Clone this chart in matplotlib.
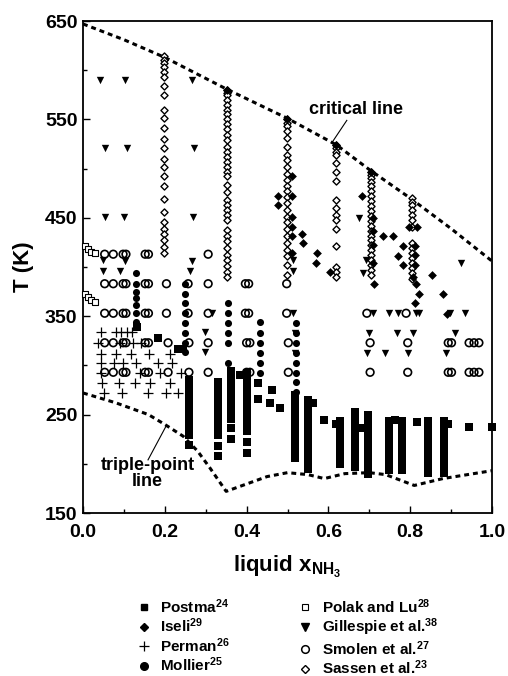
import numpy as np
import matplotlib
matplotlib.use('Agg')
from matplotlib import pyplot as plt
from matplotlib.lines import Line2D

plt.rcParams['font.family'] = 'Liberation Sans'
plt.rcParams['font.weight'] = 'bold'
plt.rcParams['mathtext.fontset'] = 'custom'
plt.rcParams['mathtext.rm'] = 'Liberation Sans:bold'
plt.rcParams['mathtext.bf'] = 'Liberation Sans:bold'
plt.rcParams['mathtext.it'] = 'Liberation Sans:bold'
plt.rcParams['mathtext.default'] = 'bf'

# critical line and triple-point line
crit_x = [0.0, 0.1, 0.2, 0.35, 0.5, 0.62, 0.7, 0.8, 0.9, 1.0]
crit_T = [647, 631, 613, 581, 551, 524, 499, 470, 439, 406]
trip_x = [0.0, 0.08, 0.16, 0.2, 0.245, 0.28, 0.31, 0.35, 0.39, 0.45, 0.5,
          0.55, 0.59, 0.64, 0.7, 0.74, 0.81, 0.88, 1.0]
trip_T = [272, 262, 250, 240, 228, 213, 196, 172, 178, 187, 191,
          189, 185, 190, 191, 189, 178, 185, 193]

# Sassen et al. (open diamonds), one column per composition
sassen_x = [0.197, 0.352, 0.498, 0.619, 0.703, 0.805]
sassen_T = [
    [614, 610, 607, 603, 598, 593, 584, 575, 560, 551, 541, 530, 521, 510, 502,
     492, 482, 469, 456, 446, 439, 434, 427, 420, 414],
    [580, 577, 575, 570, 565, 560, 555, 550, 545, 540, 534, 529, 522, 517, 512,
     507, 502, 497, 492, 483, 476, 468, 463, 458, 453, 448, 438, 432, 426, 419,
     412, 407, 401, 395, 390],
    [550, 546, 543, 538, 531, 522, 514, 509, 502, 495, 488, 482, 477, 471, 465,
     458, 451, 446, 439, 431, 424, 417, 411, 402, 392],
    [524, 521, 517, 514, 506, 497, 487, 468, 460, 453, 448, 439, 421, 400, 395, 390],
    [497, 494, 490, 486, 482, 477, 472, 467, 462, 457, 452, 447, 442, 437, 432,
     427, 422, 417, 412, 407, 402, 397, 392],
    [470, 466, 463, 458, 453, 448, 441, 424, 419, 414, 409, 404, 399, 394, 388],
]

# Iseli (filled diamonds)
iseli_x = [0.352, 0.498, 0.619, 0.703, 0.512, 0.512, 0.476, 0.476, 0.512, 0.512,
           0.512, 0.535, 0.539, 0.512, 0.571, 0.570, 0.604, 0.681, 0.734, 0.757,
           0.708, 0.708, 0.708, 0.708, 0.712, 0.798, 0.817, 0.783, 0.771, 0.783,
           0.812, 0.812, 0.812, 0.806, 0.814, 0.822, 0.812, 0.853, 0.881, 0.889]
iseli_T = [580, 550, 524, 497, 492, 472, 472, 463, 451, 441,
           431, 434, 424, 414, 414, 404, 395, 472, 431, 431,
           450, 437, 422, 404, 383, 441, 441, 421, 411, 402,
           402, 412, 421, 390, 383, 373, 363, 392, 373, 352]

# Gillespie et al. (filled down triangles)
gill_x = [0.042, 0.103, 0.267, 0.054, 0.107, 0.271, 0.053, 0.100, 0.269,
          0.048, 0.102, 0.267, 0.050, 0.090, 0.262, 0.298, 0.298, 0.315,
          0.514, 0.514, 0.513, 0.518, 0.518, 0.676, 0.692, 0.685, 0.923,
          0.710, 0.749, 0.771, 0.814, 0.822, 0.897, 0.934,
          0.700, 0.767, 0.808, 0.910, 0.694, 0.738, 0.794, 0.888]
gill_T = [590, 590, 590, 521, 521, 521, 451, 451, 451,
          407, 406, 406, 396, 396, 396, 334, 314, 353,
          407, 396, 353, 333, 313, 450, 407, 394, 404,
          353, 353, 353, 353, 353, 353, 353,
          333, 333, 333, 333, 313, 313, 313, 313]

# Smolen et al. (open circles), rows of constant T
smolen_T = [413, 383, 353, 323, 293]
smolen_x = [
    [0.053, 0.074, 0.098, 0.105, 0.152, 0.160, 0.306],
    [0.053, 0.074, 0.098, 0.105, 0.152, 0.160, 0.204, 0.257, 0.306, 0.397, 0.405, 0.498],
    [0.053, 0.074, 0.098, 0.105, 0.152, 0.160, 0.204, 0.257, 0.306, 0.397, 0.405, 0.498,
     0.694, 0.790],
    [0.053, 0.074, 0.098, 0.105, 0.152, 0.160, 0.208, 0.259, 0.306, 0.400, 0.408, 0.502,
     0.702, 0.794, 0.893, 0.901, 0.944, 0.956, 0.968],
    [0.053, 0.074, 0.098, 0.105, 0.152, 0.160, 0.208, 0.259, 0.306, 0.400, 0.408, 0.502,
     0.702, 0.794, 0.893, 0.901, 0.944, 0.956, 0.968],
]

# Mollier (filled circles), columns
mollier_x = [0.129, 0.249, 0.354, 0.433, 0.522]
mollier_T = [
    [394, 383, 375, 368, 361, 353, 344],
    [383, 373, 363, 353, 343, 333, 323, 314],
    [363, 353, 343, 333, 323, 302],
    [344, 333, 323, 313, 302, 292],
    [343, 333, 323, 313, 302, 292, 283, 273],
]

# Perman (plus), rows
perman_T = [334, 323, 312, 302, 292, 282, 272]
perman_x = [
    [0.044, 0.080, 0.094, 0.108, 0.121],
    [0.037, 0.091, 0.122, 0.143],
    [0.045, 0.080, 0.118, 0.162, 0.213],
    [0.044, 0.075, 0.097, 0.130, 0.184, 0.217],
    [0.045, 0.140, 0.188, 0.240],
    [0.047, 0.088, 0.126, 0.163, 0.213],
    [0.051, 0.096, 0.159, 0.204, 0.232],
]

# Polak and Lu (open squares)
polak_x = [0.004, 0.012, 0.020, 0.029, 0.004, 0.012, 0.020, 0.029]
polak_T = [421, 418, 415.5, 414, 373, 370, 366.5, 364]

# Postma (filled squares): stacked columns + single points
postma_x = [0.259, 0.330, 0.363, 0.400, 0.518, 0.549, 0.628, 0.665, 0.696,
            0.748, 0.779, 0.843, 0.883]
postma_T = [
    [285, 281, 277, 273, 269, 265, 261, 258, 251, 243, 236, 229, 219],
    [283, 279, 275, 271, 267, 263, 259, 255, 251, 247, 243, 239, 235, 229, 218, 208],
    [294, 288, 284, 280, 276, 272, 268, 264, 260, 256, 252, 248, 246, 236, 225],
    [292, 288, 284, 280, 276, 272, 268, 264, 260, 256, 252, 248, 244, 241, 233, 222, 211],
    [270, 266, 262, 258, 254, 250, 246, 242, 238, 234, 230, 226, 222, 218, 214, 210, 206],
    [265, 261, 257, 253, 249, 245, 241, 237, 233, 229, 225, 221, 217, 213, 209, 205,
     201, 197, 195],
    [244, 240, 236, 232, 228, 224, 220, 216, 212, 208, 204, 200],
    [253, 249, 245, 241, 237, 233, 229, 225, 221, 217, 213, 209, 205, 201, 197],
    [250, 246, 242, 238, 234, 230, 226, 222, 218, 214, 210, 206, 202, 198, 194, 190],
    [244, 240, 236, 232, 228, 224, 220, 216, 212, 208, 204, 200, 194],
    [244, 240, 236, 232, 228, 224, 220, 216, 212, 208, 204, 200, 196, 194],
    [243, 239, 235, 231, 227, 223, 219, 215, 211, 207, 203, 199, 195, 191],
    [243, 239, 235, 231, 227, 223, 219, 215, 211, 207, 203, 199, 195, 191],
]
postma_sx = [0.131, 0.184, 0.232, 0.245, 0.383, 0.429, 0.427, 0.463, 0.457, 0.482,
             0.563, 0.589, 0.618, 0.677, 0.763, 0.816, 0.892, 0.944, 0.999]
postma_sT = [339, 328, 317, 317, 290, 282, 266, 275, 262, 257,
             262, 245, 240, 236, 245, 242, 240, 237, 237]


def flat_cols(xs, Ts):
    px, pT = [], []
    for x, col in zip(xs, Ts):
        px += [x] * len(col)
        pT += col
    return px, pT


def flat_rows(Ts, xs):
    px, pT = [], []
    for T, row in zip(Ts, xs):
        px += row
        pT += [T] * len(row)
    return px, pT


fig = plt.figure(figsize=(5.08, 6.76), dpi=100)
ax = fig.add_axes([83/508, 1-513/676, 409/508, 492/676])

dash = (0, (1.6, 1.3))
ax.plot(crit_x, crit_T, color='k', lw=2.2, ls=dash, zorder=2)
ax.plot(trip_x, trip_T, color='k', lw=2.2, ls=dash, zorder=2)

kw = dict(clip_on=False, zorder=3)
x, T = flat_cols(postma_x, postma_T)
ax.scatter(x + postma_sx, T + postma_sT, marker='s', s=28, c='k', linewidths=0, **kw)
x, T = flat_cols(sassen_x, sassen_T)
ax.scatter(x, T, marker='D', s=13, facecolors='white', edgecolors='k', linewidths=1.0, **kw)
ax.scatter(iseli_x, iseli_T, marker='D', s=20, c='k', linewidths=0, **kw)
x, T = flat_cols(mollier_x, mollier_T)
ax.scatter(x, T, marker='o', s=26, c='k', linewidths=0, **kw)
x, T = flat_rows(perman_T, perman_x)
ax.scatter(x, T, marker='+', s=50, c='k', linewidths=0.9, **kw)
ax.scatter(gill_x, gill_T, marker='v', s=28, c='k', linewidths=0, **kw)
x, T = flat_rows(smolen_T, smolen_x)
ax.scatter(x, T, marker='o', s=30, facecolors='none', edgecolors='k', linewidths=1.2, **kw)
ax.scatter(polak_x, polak_T, marker='s', s=20, facecolors='white', edgecolors='k', linewidths=0.8, **kw)

ax.set_xlim(0, 1)
ax.set_ylim(150, 650)
ax.set_xticks(np.arange(0, 1.01, 0.2))
ax.set_xticks(np.arange(0, 1.01, 0.1), minor=True)
ax.set_yticks(np.arange(150, 651, 100))
ax.set_yticks(np.arange(150, 651, 50), minor=True)
ax.xaxis.set_major_formatter(plt.FormatStrFormatter('%.1f'))
ax.tick_params(which='both', direction='in', width=1)
ax.tick_params(which='major', length=5, labelsize=14)
ax.tick_params(which='minor', length=3)
ax.tick_params(axis='x', pad=8)
ax.tick_params(axis='y', pad=4)
for sp in ax.spines.values():
    sp.set_linewidth(1.3)

ax.set_ylabel('T (K)', fontsize=16, fontweight='bold', labelpad=8)
ax.set_xlabel(r'liquid x$_{NH_3}$', fontsize=16, fontweight='bold', labelpad=9)

ax.text(0.667, 560, 'critical line', fontsize=13, fontweight='bold', ha='center', va='center')
ax.plot([0.645, 0.608], [549, 526], color='k', lw=0.8)
ax.text(0.158, 190, 'triple-point\nline', fontsize=13, fontweight='bold', ha='center',
        va='center', linespacing=0.95)
ax.plot([0.159, 0.204], [204, 239], color='k', lw=0.8)

handles = [
    Line2D([], [], ls='none', marker='s', ms=5, mfc='k', mec='k'),
    Line2D([], [], ls='none', marker='D', ms=4, mfc='k', mec='k'),
    Line2D([], [], ls='none', marker='+', ms=7, mec='k', mew=0.9),
    Line2D([], [], ls='none', marker='o', ms=5.5, mfc='k', mec='k'),
    Line2D([], [], ls='none', marker='s', ms=5, mfc='white', mec='k', mew=0.8),
    Line2D([], [], ls='none', marker='v', ms=5.5, mfc='k', mec='k'),
    Line2D([], [], ls='none', marker='o', ms=5.5, mfc='none', mec='k', mew=1.1),
    Line2D([], [], ls='none', marker='D', ms=4, mfc='white', mec='k', mew=1.0),
]
labels = [r'Postma$^{24}$', r'Iseli$^{29}$', r'Perman$^{26}$', r'Mollier$^{25}$',
          r'Polak and Lu$^{28}$', r'Gillespie et al.$^{38}$', r'Smolen et al.$^{27}$',
          r'Sassen et al.$^{23}$']
fig.legend(handles, labels, loc='upper left', bbox_to_anchor=(136/508, 1-597/676),
           ncol=2, frameon=False, fontsize=11, handlelength=1.0, handletextpad=0.6,
           columnspacing=4.4, labelspacing=0.06, borderpad=0, borderaxespad=0)

fig.savefig('out.png', dpi=100)
